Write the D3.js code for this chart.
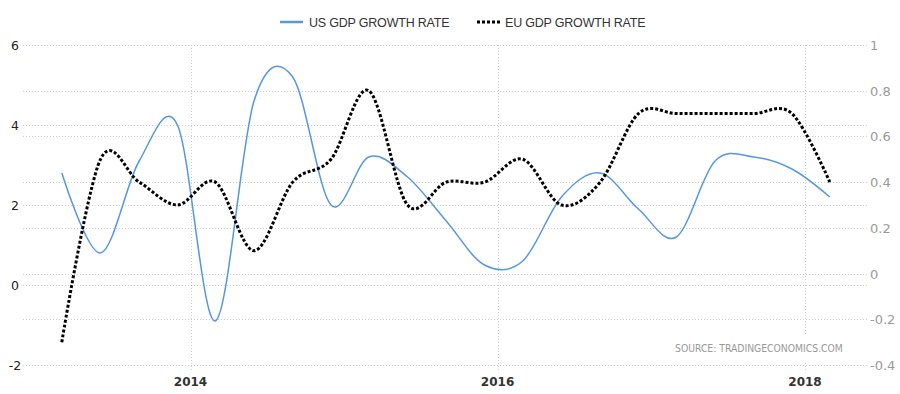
<!DOCTYPE html>
<html>
<head>
<meta charset="utf-8">
<script src="https://cdnjs.cloudflare.com/ajax/libs/d3/7.8.5/d3.min.js"></script>
<style>
  body { margin: 0; background: #fff; }
  svg { display: block; }
</style>
</head>
<body>
<svg width="900" height="394"></svg>
<script>
// quarterly readings, Q1 2013 .. Q1 2018
const quarters = [
  '2013-03-01', '2013-06-01', '2013-09-01', '2013-12-01',
  '2014-03-01', '2014-06-01', '2014-09-01', '2014-12-01',
  '2015-03-01', '2015-06-01', '2015-09-01', '2015-12-01',
  '2016-03-01', '2016-06-01', '2016-09-01', '2016-12-01',
  '2017-03-01', '2017-06-01', '2017-09-01', '2017-12-01',
  '2018-03-01',
];
const usGrowth = [2.8, 0.8, 3.1, 4.0, -0.9, 4.6, 5.2, 2.0, 3.2, 2.7, 1.6, 0.5, 0.6, 2.2, 2.8, 1.9, 1.2, 3.1, 3.2, 2.9, 2.2];
const euGrowth = [-0.3, 0.5, 0.4, 0.3, 0.4, 0.1, 0.4, 0.5, 0.8, 0.3, 0.4, 0.4, 0.5, 0.3, 0.4, 0.7, 0.7, 0.7, 0.7, 0.7, 0.4];
const leftTicks = [-2, 0, 2, 4, 6];
const rightTicks = [-0.4, -0.2, 0, 0.2, 0.4, 0.6, 0.8, 1];
const yearTicks = ['2014', '2016', '2018'];
const seriesNames = ['US GDP GROWTH RATE', 'EU GDP GROWTH RATE'];

const svg = d3.select('svg');
const plotLeft = 23;
const plotRight = 867;
const plotTop = 45;
const plotBottom = 365;

const parse = d3.timeParse('%Y-%m-%d');
const x = d3.scaleTime()
  .domain([new Date(2014, 0, 1), new Date(2018, 0, 1)])
  .range([190.5, 805]);
const yL = d3.scaleLinear().domain([-2, 6]).range([plotBottom, plotTop]);
const yR = d3.scaleLinear().domain([-0.4, 1]).range([plotBottom, plotTop]);

const grid = svg.append('g')
  .attr('stroke', '#cfcfcf')
  .attr('stroke-dasharray', '1,2');

// horizontal grid for both axes
leftTicks.forEach((t) => {
  grid.append('line')
    .attr('x1', plotLeft).attr('x2', plotRight)
    .attr('y1', Math.round(yL(t)) + 0.5).attr('y2', Math.round(yL(t)) + 0.5);
});
rightTicks.forEach((t) => {
  grid.append('line')
    .attr('x1', plotLeft).attr('x2', plotRight)
    .attr('y1', Math.round(yR(t)) + 0.5).attr('y2', Math.round(yR(t)) + 0.5);
});
yearTicks.forEach((yr) => {
  const px = Math.round(x(new Date(+yr, 0, 1))) + 0.5;
  grid.append('line')
    .attr('x1', px).attr('x2', px)
    .attr('y1', plotTop).attr('y2', plotBottom + 5);
});

// axis labels
svg.append('g').selectAll('text')
  .data(leftTicks)
  .join('text')
  .attr('x', 15)
  .attr('y', d => yL(d) + 5)
  .attr('text-anchor', 'middle')
  .attr('font-family', 'DejaVu Sans')
  .attr('font-size', 12.5)
  .attr('fill', '#222')
  .text(d => String(d));

svg.append('g').selectAll('text')
  .data(rightTicks)
  .join('text')
  .attr('x', 870)
  .attr('y', d => yR(d) + 5)
  .attr('font-family', 'DejaVu Sans')
  .attr('font-size', 13)
  .attr('fill', '#9a9a9a')
  .text(d => String(d));

svg.append('g').selectAll('text')
  .data(yearTicks)
  .join('text')
  .attr('x', d => x(new Date(+d, 0, 1)))
  .attr('y', 386)
  .attr('text-anchor', 'middle')
  .attr('font-family', 'DejaVu Sans')
  .attr('font-weight', 'bold')
  .attr('font-size', 12)
  .attr('fill', '#333')
  .text(d => d);

// source note sits on a white box over the grid
svg.append('rect')
  .attr('x', 670).attr('y', 334)
  .attr('width', 178).attr('height', 28)
  .attr('fill', '#fff');
svg.append('text')
  .attr('x', 675)
  .attr('y', 352)
  .attr('font-family', 'DejaVu Sans Condensed')
  .attr('font-size', 10.3)
  .attr('fill', '#999')
  .text('SOURCE: TRADINGECONOMICS.COM');

// lines
const dates = quarters.map(parse);
const lineUS = d3.line()
  .x((d, i) => x(dates[i]))
  .y(d => yL(d))
  .curve(d3.curveCatmullRom.alpha(0));
const lineEU = d3.line()
  .x((d, i) => x(dates[i]))
  .y(d => yR(d))
  .curve(d3.curveCatmullRom.alpha(0));

svg.append('path')
  .attr('d', lineUS(usGrowth))
  .attr('fill', 'none')
  .attr('stroke', '#5597e0')
  .attr('stroke-width', 1.5);

svg.append('path')
  .attr('d', lineEU(euGrowth))
  .attr('fill', 'none')
  .attr('stroke', '#000')
  .attr('stroke-width', 3)
  .attr('stroke-dasharray', '3,2');

// legend
const legend = svg.append('g');
legend.append('line')
  .attr('x1', 280).attr('x2', 303)
  .attr('y1', 22).attr('y2', 22)
  .attr('stroke', '#5597e0')
  .attr('stroke-width', 2.5);
legend.append('text')
  .attr('x', 309).attr('y', 26.5)
  .attr('font-family', 'Liberation Sans')
  .attr('font-size', 12.5)
  .attr('letter-spacing', -0.2)
  .attr('fill', '#333')
  .text(seriesNames[0]);
legend.append('line')
  .attr('x1', 477).attr('x2', 500)
  .attr('y1', 22).attr('y2', 22)
  .attr('stroke', '#000')
  .attr('stroke-width', 3)
  .attr('stroke-dasharray', '3,2');
legend.append('text')
  .attr('x', 505).attr('y', 26.5)
  .attr('font-family', 'Liberation Sans')
  .attr('font-size', 12.5)
  .attr('letter-spacing', -0.2)
  .attr('fill', '#333')
  .text(seriesNames[1]);
</script>
</body>
</html>
